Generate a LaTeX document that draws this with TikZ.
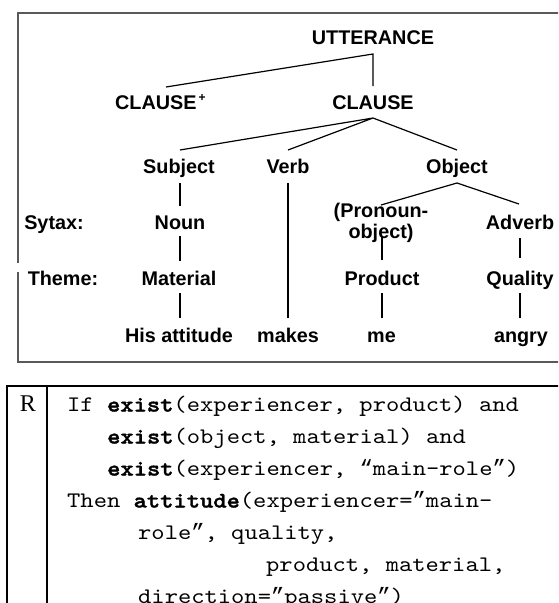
\documentclass[tikz,border=0pt]{standalone}
\usepackage{fontspec}
\setmainfont{Liberation Sans}
\newfontfamily\codefont{lmmono10-regular.otf}[BoldFont=lmmonolt10-bold.otf, BoldFeatures={FakeBold=1.6}, FakeStretch=1.14]
\newfontfamily\quotefont{Liberation Mono}
\newfontfamily\serifR{Liberation Serif}
% curly quotes for the code lines
\newcommand{\oq}{{\quotefont “}}
\newcommand{\cq}{{\quotefont ”}}
\begin{document}
\begin{tikzpicture}[x=1pt,y=-1pt,
  lbl/.style={font=\fontsize{19.8}{21}\selectfont\bfseries, anchor=base, inner sep=0pt},
  tree/.style={line width=1.2pt, black},
  code/.style={font=\fontsize{22.2}{26}\selectfont\codefont, anchor=base west, inner sep=0pt},
  frame/.style={line width=1.4pt, draw=black!65},
  tbl/.style={line width=1.7pt, black}]
\useasboundingbox (0,0) rectangle (558,603);
\clip (0,0) rectangle (558,603);

% frame of the parse tree (runs off to the right)
\draw[frame] (575,13) -- (18,13) -- (18,263);
\draw[frame] (18,272) -- (18,362) -- (575,362);

% tree labels
\node[lbl] (utt) at (373,44.5) {UTTERANCE};
\node[lbl, anchor=base west] (clp) at (115,109) {CLAUSE\hspace{2pt}\raisebox{8pt}{\fontsize{12}{12}\selectfont +}};
\node[lbl] (cl) at (373,109) {CLAUSE};
\node[lbl] (subj) at (179,173) {Subject};
\node[lbl] (verb) at (288,173) {Verb};
\node[lbl] (obj) at (457,173) {Object};
\node[lbl] (syn) at (54,229) {Sytax:};
\node[lbl] (noun) at (180,229) {Noun};
\node[lbl, align=center] (pron) at (381,238) {(Pronoun-\\object)};
\node[lbl] (adv) at (520,229) {Adverb};
\node[lbl] (theme) at (63,285) {Theme:};
\node[lbl] (mat) at (179,285) {Material};
\node[lbl] (prod) at (382,285) {Product};
\node[lbl] (qual) at (520,285) {Quality};
\node[lbl] (his) at (179,342) {His attitude};
\node[lbl] (makes) at (288,342) {makes};
\node[lbl] (me) at (381.5,342) {me};
\node[lbl] (angry) at (521,342) {angry};

% connector ends
\coordinate (uttJ) at (373,54);
\coordinate (clpT) at (166,87);
\coordinate (clT) at (373,86);
\coordinate (clJ) at (373,118);
\coordinate (subjT) at (180,150);
\coordinate (verbT) at (288,150);
\coordinate (objT) at (457,150);
\coordinate (subjB) at (180,183);
\coordinate (nounT) at (180,206);
\coordinate (nounB) at (180,236);
\coordinate (matT) at (180,261);
\coordinate (matB) at (180,293);
\coordinate (hisT) at (180,318);
\coordinate (verbB) at (288,183);
\coordinate (makesT) at (288,318);
\coordinate (objJ) at (457,183);
\coordinate (pronT) at (381,205);
\coordinate (advT) at (519,204);
\coordinate (pronB) at (382,236);
\coordinate (prodT) at (382,260);
\coordinate (prodB) at (382,293);
\coordinate (meT) at (382,318);
\coordinate (advB) at (520,238);
\coordinate (qualT) at (520,258);
\coordinate (qualB) at (520,293);
\coordinate (angryT) at (520,318);

% connectors
\draw[tree] (clpT) -- (uttJ) -- (clT);
\draw[tree] (subjT) -- (clJ) -- (verbT);
\draw[tree] (clJ) -- (objT);
\draw[tree] (subjB) -- (nounT);
\draw[tree] (nounB) -- (matT);
\draw[tree] (matB) -- (hisT);
\draw[tree] (verbB) -- (makesT);
\draw[tree] (pronT) -- (objJ) -- (advT);
\draw[tree] (pronB) -- (prodT);
\draw[tree] (prodB) -- (meT);
\draw[tree] (advB) -- (qualT);
\draw[tree] (qualB) -- (angryT);

% rule table
\draw[tbl] (7,612) -- (7,386) -- (575,386);
\draw[tbl] (47,386) -- (47,612);
\node[font=\fontsize{24}{24}\selectfont\serifR, anchor=base, inner sep=0pt] (rlab) at (28,411) {R};

\node[code] (c1) at (67,411.5) {If \textbf{exist}(experiencer, product) and};
\node[code] (c2) at (107,443.5) {\textbf{exist}(object, material) and};
\node[code] (c3) at (107,475.5) {\textbf{exist}(experiencer, \oq main-role\cq)};
\node[code] (c4) at (67,507.5) {Then \textbf{attitude}(experiencer=\cq main-};
\node[code] (c5) at (138,539.5) {role\cq, quality,};
\node[code] (c6) at (266,571.5) {product, material,};
\node[code] (c7) at (138,603.5) {direction=\cq passive\cq)};
\end{tikzpicture}
\end{document}
